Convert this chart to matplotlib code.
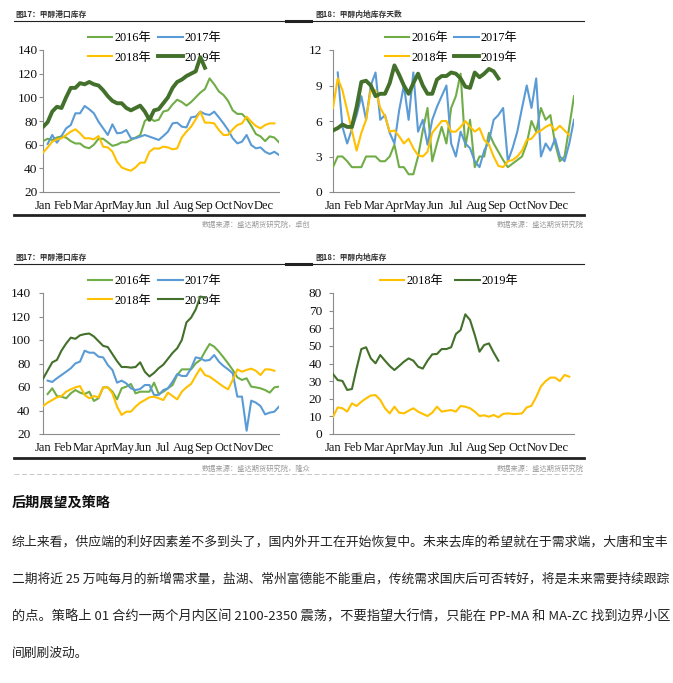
import numpy as np
import matplotlib
matplotlib.use("Agg")
import matplotlib.pyplot as plt
from matplotlib.lines import Line2D

W, H = 673, 683
SERIF = ['Liberation Serif', 'Noto Sans CJK SC']
SANS = ['Noto Sans CJK SC', 'DejaVu Sans']

MONTHS = ['Jan', 'Feb', 'Mar', 'Apr', 'May', 'Jun',
          'Jul', 'Aug', 'Sep', 'Oct', 'Nov', 'Dec']
COLORS = {'2016年': '#70AD47', '2017年': '#5B9BD5',
          '2018年': '#FFC000', '2019年': '#43702B'}

# --- 图17 上: 甲醇港口库存 (万吨, weekly) ---
port_a_2016 = [63, 65, 64, 66, 67, 66, 63, 61, 61, 58, 57, 60, 65, 65, 62, 59, 60, 62,
               62, 64, 66, 68, 80, 83, 80, 81, 88, 89, 94, 98, 96, 93, 96, 100, 104, 107,
               116, 111, 105, 102, 97, 89, 86, 86, 82, 76, 69, 67, 63, 67, 66, 62]
port_a_2017 = [60.6, 68.2, 61.7, 67.3, 73.8, 76.6, 86.5, 86.5, 92.7, 89.9, 86.5, 79.4,
               73.8, 68.2, 77.2, 69.6, 70.1, 72.4, 65.4, 65.4, 66.8, 68.2, 66.8, 65.4,
               64, 67.3, 71, 78, 78.6, 75.2, 74.6, 83.1, 83.7, 87.9, 85.9, 85.1, 87.9,
               83.1, 78, 72.4, 65.4, 61.1, 62.5, 68.2, 59.7, 56.9, 57.7, 54, 52.1, 54, 51.3]
port_a_2018 = [53.2, 57.7, 62.5, 64.5, 65.4, 68.2, 71, 73, 69.6, 65.4, 65.4, 64.5, 67.3,
               58.3, 57.7, 54.1, 45.6, 40.8, 39.1, 38, 40.8, 44.8, 44.8, 54, 56.9, 56.6,
               58.3, 57.7, 56, 56.9, 66.2, 71, 75.2, 81.4, 87.9, 78.6, 78.6, 78, 72.4,
               68.2, 68.2, 73, 76.6, 78, 83.7, 79.4, 75.8, 73.8, 76.6, 78, 78]
port_a_2019 = [75, 79, 88, 92, 91, 100, 108, 108, 112, 111, 113, 111, 110, 106, 101, 97,
               95, 95, 91, 89, 91, 93, 88, 81, 89, 90, 95, 100, 108, 113, 115, 118, 120,
               122, 134, 125]

# --- 图18 上: 甲醇内地库存天数 ---
days_2016 = [2.1, 3.0, 3.0, 2.6, 2.1, 2.1, 2.1, 3.0, 3.0, 3.0, 2.6, 2.6, 3.0, 4.0, 2.1,
             2.1, 1.5, 1.5, 3.0, 5.2, 7.1, 2.6, 4.1, 5.5, 4.1, 7.1, 8.1, 10.0, 3.8, 6.1,
             2.1, 3.0, 3.0, 5.0, 4.1, 3.4, 2.7, 2.1, 2.4, 2.7, 3.0, 4.1, 6.0, 5.1, 7.1,
             6.1, 6.5, 4.1, 2.6, 3.0, 5.5, 8.1]
days_2017 = [10.1, 5.5, 4.1, 5.3, 6.5, 8.1, 6.1, 9.0, 10.1, 6.1, 6.5, 5.0, 4.1, 6.9,
             9.0, 6.1, 10.1, 5.1, 6.1, 4.0, 6.1, 7.2, 8.1, 9.0, 4.1, 3.0, 5.1, 4.1, 3.7,
             2.6, 2.1, 3.5, 4.3, 6.1, 6.5, 7.1, 2.6, 3.7, 5.1, 7.1, 9.0, 7.1, 9.6, 3.0,
             4.1, 3.5, 4.5, 3.0, 2.6, 4.1, 6.1]
days_2018 = [7.1, 9.6, 8.6, 6.9, 5.2, 3.5, 5.0, 6.1, 8.7, 8.6, 7.1, 6.4, 5.1, 5.2, 4.7,
             4.1, 4.5, 3.7, 3.1, 3.0, 3.4, 5.0, 5.5, 6.0, 6.0, 5.1, 5.1, 5.5, 6.0, 5.5,
             5.1, 5.4, 4.4, 4.0, 3.0, 2.2, 2.1, 2.6, 2.7, 3.0, 3.5, 4.4, 4.5, 5.0, 5.2,
             5.5, 5.7, 5.2, 5.6, 5.2, 4.8]
days_2019 = [5.2, 5.4, 5.7, 5.5, 5.5, 7.2, 9.3, 9.4, 9.0, 8.1, 8.3, 8.3, 9.2, 10.7, 9.9,
             9.0, 8.3, 9.2, 10.0, 9.0, 8.3, 8.3, 9.5, 9.8, 9.8, 10.1, 10.0, 9.6, 8.9, 8.8,
             10.1, 9.7, 10.0, 10.4, 10.2, 9.6]

# --- 图17 下: 甲醇港口库存 ---
port_b_2016 = [54, 58.9, 52.3, 51.8, 50.4, 54.6, 57.4, 55.2, 54, 56, 48.1, 50.4, 59.7,
               59.7, 56, 49.5, 58.9, 60.3, 62.6, 54.6, 56, 56, 56, 63.7, 54, 56, 58.9,
               61.7, 70.2, 75, 75, 75, 80.1, 83, 90.1, 96.6, 94.3, 90.1, 85.2, 80.1, 74.5,
               68.2, 66, 67.4, 60.3, 59.7, 58.9, 57.4, 55.2, 59.7, 60.3]
port_b_2017 = [65.4, 64.3, 67.4, 70.2, 73, 75.9, 80.1, 81.6, 90.9, 89.2, 89.2, 85.8, 85.2,
               78.7, 74.5, 63.7, 65.4, 63.1, 58.9, 57.4, 58.3, 61.7, 61.7, 53.2, 53.2,
               57.4, 58.9, 64.5, 71, 69.4, 69.4, 75.9, 85.2, 84.4, 82.4, 83, 87.2, 81.6,
               77.9, 75, 71.6, 51.8, 51.8, 22.8, 48.4, 46.7, 43.8, 36.7, 38.2, 39, 43.3]
port_b_2018 = [43.8, 46.7, 48.9, 51.2, 52.3, 56, 58, 59.7, 60.8, 53.2, 50.4, 52.3, 51.2,
               59.7, 59.7, 54.6, 43.3, 36.2, 39, 39, 43.3, 46.7, 48.9, 51.2, 51.8, 50.4,
               48.9, 55.2, 52.3, 49.5, 56, 59.7, 62.6, 69.4, 75.9, 70.2, 68.8, 66, 63.1,
               60.3, 58, 66, 75, 73, 74.5, 75.6, 73.8, 70.2, 75, 75, 73.8]
port_b_2019 = [67, 74, 81, 83, 91, 97, 102, 101, 104, 105, 105.5, 103, 99, 95, 94, 88, 82,
               77, 77, 76.5, 77, 81, 73, 69, 72, 76, 79, 84, 89, 93, 100, 115, 119, 126,
               137, 136]

# --- 图18 下: 甲醇内地库存 ---
inland_2018 = [9.8, 15.1, 14.6, 12.7, 17.4, 15.9, 18.3, 20.2, 21.8, 22.1, 19.3, 14.6,
               11.7, 15.5, 12.1, 11.7, 13.2, 14.6, 12.7, 11.4, 10.2, 12.1, 15.5, 12.7,
               13.2, 13.6, 12.7, 15.9, 15.5, 14.6, 12.7, 10.2, 10.6, 9.8, 10.8, 9.5, 11.4,
               11.7, 11.4, 11.4, 11.7, 15.1, 16, 21, 27, 30, 32, 32, 30, 33.5, 32.5]
inland_2019 = [34, 30.6, 30.1, 25, 25.5, 37.3, 48.2, 49.2, 42.9, 40.1, 44.8, 41.6, 38.6,
               36.3, 38.6, 41, 42.9, 41.6, 38.2, 37.1, 41.6, 45.2, 45.4, 48.2, 48.2, 49.2,
               56.7, 59, 67.9, 64.7, 56.2, 46.7, 50.5, 51.4, 46.2, 41.6]

TITLES = ['图17：甲醇港口库存', '图18：甲醇内地库存天数', '图17：甲醇港口库存', '图18：甲醇内地库存']
SOURCES = ['数据来源：盛达期货研究院，卓创', '数据来源：盛达期货研究院',
           '数据来源：盛达期货研究院，隆众', '数据来源：盛达期货研究院']
HEADING = '后期展望及策略'
PARAGRAPH = [
    '综上来看，供应端的利好因素差不多到头了，国内外开工在开始恢复中。未来去库的希望就在于需求端，大唐和宝丰',
    '二期将近 25 万吨每月的新增需求量，盐湖、常州富德能不能重启，传统需求国庆后可否转好，将是未来需要持续跟踪',
    '的点。策略上 01 合约一两个月内区间 2100-2350 震荡，不要指望大行情，只能在 PP-MA 和 MA-ZC 找到边界小区',
    '间刷刷波动。',
]

fig = plt.figure(figsize=(W / 100, H / 100), dpi=100)


def box(l, t, r, b):
    return [l / W, 1 - b / H, (r - l) / W, (b - t) / H]


def hline(x0, x1, y, lw, color='#222222', **kw):
    fig.add_artist(Line2D([x0 / W, x1 / W], [1 - y / H, 1 - y / H],
                          transform=fig.transFigure, lw=lw, color=color, **kw))


def chart(rect, series, ylim, yticks, thick, leg_xy, colsp, ypad):
    ax = fig.add_axes(box(*rect))
    handles = {}
    for label, start, vals in series:
        x = np.arange(len(vals)) + start
        lw = 2.8 if (thick and label == '2019年') else 1.5
        handles[label], = ax.plot(x, vals, color=COLORS[label], lw=lw, label=label,
                                  solid_joinstyle='round', zorder=3)
    ax.set_xlim(0, 51)
    ax.set_ylim(*ylim)
    ax.set_yticks(yticks)
    ax.set_xticks(np.arange(12) * 52 / 12)
    ax.set_xticklabels(MONTHS)
    for s in ['top', 'right']:
        ax.spines[s].set_visible(False)
    for s in ['left', 'bottom']:
        ax.spines[s].set_color('#8c8c8c')
        ax.spines[s].set_linewidth(0.8)
    ax.tick_params(axis='x', length=0, pad=6)
    ax.tick_params(axis='y', length=3, width=0.8, color='#8c8c8c', pad=ypad)
    for t in ax.get_yticklabels():
        t.set_family(SERIF)
        t.set_fontsize(9.6)
        t.set_color('#111111')
    for t in ax.get_xticklabels():
        t.set_family(SERIF)
        t.set_fontsize(9.0)
        t.set_color('#111111')
    # legend rows read left to right: 2016 2017 / 2018 2019
    labels = list(handles)
    if len(labels) == 4:
        labels = [labels[0], labels[2], labels[1], labels[3]]
    leg = ax.legend([handles[k] for k in labels], labels,
                    loc='upper left', bbox_to_anchor=(leg_xy[0] / W, 1 - leg_xy[1] / H),
                    bbox_transform=fig.transFigure, ncol=2, frameon=False,
                    borderpad=0, borderaxespad=0, handlelength=2.0, handletextpad=0.15,
                    columnspacing=colsp, labelspacing=0.62,
                    prop={'family': SERIF, 'size': 8.8})
    leg.set_zorder(1)
    return ax


chart((43, 50, 279, 192),
      [('2016年', 0, port_a_2016), ('2017年', 1, port_a_2017),
       ('2018年', 0, port_a_2018), ('2019年', 0, port_a_2019)],
      (20, 140), range(20, 141, 20), True, (88, 32), 0.6, 1)
chart((333, 50, 574, 192),
      [('2016年', 0, days_2016), ('2017年', 1, days_2017),
       ('2018年', 0, days_2018), ('2019年', 0, days_2019)],
      (0, 12), range(0, 13, 3), True, (385, 32), 0.5, 5)
chart((43, 293, 279, 434),
      [('2016年', 1, port_b_2016), ('2017年', 1, port_b_2017),
       ('2018年', 0, port_b_2018), ('2019年', 0, port_b_2019)],
      (20, 140), range(20, 141, 20), False, (88, 275), 0.6, 6)
chart((333, 293, 574, 434),
      [('2018年', 0, inland_2018), ('2019年', 0, inland_2019)],
      (0, 80), range(0, 81, 10), False, (380, 275), 1.0, 5)

# titles, rules and sources
for (tx, ty), title in zip([(15, 14), (315, 14), (15, 257), (315, 257)], TITLES):
    fig.text(tx / W, 1 - ty / H, title, family=SANS, fontsize=5.6, weight='bold',
             color='#333333', va='center', ha='left')
for y in (20.5, 263.5):
    hline(14, 584, y, 0.8)
    hline(286, 311, y, 2.2)
for y in (215, 458):
    hline(14, 584, y, 2.0)
for (sx, sy), src in zip([(310, 225), (584, 225), (310, 469), (584, 469)], SOURCES):
    fig.text(sx / W, 1 - sy / H, src, family=SANS, fontsize=5.2, color='#9a9a9a',
             style='italic', va='center', ha='right')
hline(14, 584, 474, 0.6, color='#c0c0c0', linestyle=(0, (6, 3)))

# text block, full lines stretched to the text width like the justified original
fig.text(12 / W, 1 - 503 / H, HEADING, family=SANS, fontsize=10.2, weight='bold',
         color='#111111', va='center', ha='left')
renderer = fig.canvas.get_renderer()
for i, (y, line) in enumerate(zip([542, 579, 617, 653], PARAGRAPH)):
    t = fig.text(12 / W, 1 - y / H, line, family=SANS, fontsize=9.2, color='#222222',
                 va='center', ha='left')
    if i < len(PARAGRAPH) - 1:
        width = t.get_window_extent(renderer).width
        t.set_fontsize(9.2 * 656 / width)

fig.savefig('out.png', dpi=100, facecolor='white')
